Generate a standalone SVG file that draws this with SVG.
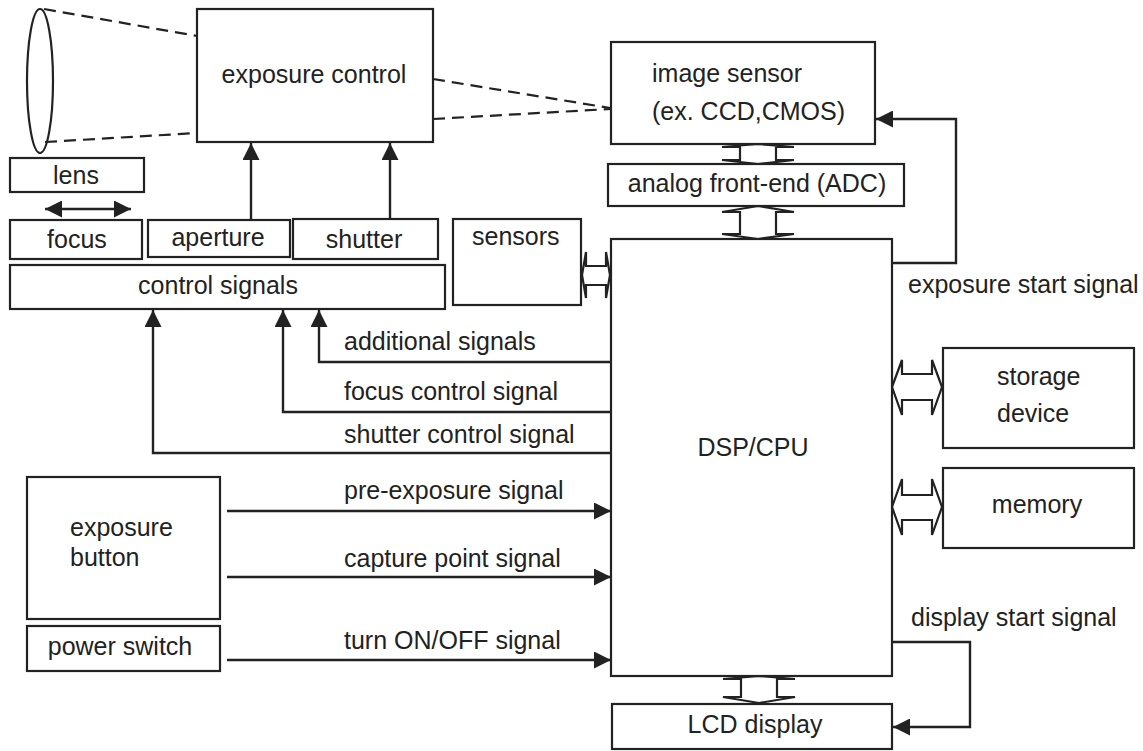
<svg xmlns="http://www.w3.org/2000/svg" width="1143" height="751" viewBox="0 0 1143 751">
<style>
  .box{fill:#fff;stroke:#222;stroke-width:2.2}
  .t{font-family:"Liberation Sans",Arial,sans-serif;font-size:25px;fill:#222}
  .m{text-anchor:middle}
  .ln{fill:none;stroke:#222;stroke-width:2.4}
  .dash{fill:none;stroke:#222;stroke-width:2.2;stroke-dasharray:12 7}
  .dbl{fill:#fff;stroke:#222;stroke-width:2.2;stroke-linejoin:miter}
</style>
<defs>
  <marker id="ah" markerUnits="userSpaceOnUse" markerWidth="18" markerHeight="17" refX="17" refY="8.5" orient="auto-start-reverse">
    <path d="M0,0 L17,8.5 L0,17 Z" fill="#222"/>
  </marker>
</defs>
<rect width="1143" height="751" fill="#fff"/>

<g id="connectors">
  <path class="dash" d="M44,9 L197,36"/>
  <path class="dash" d="M45,142 L197,133"/>
  <path class="dash" d="M433,79 L610,108"/>
  <path class="dash" d="M433,119 L610,109"/>
  <line class="ln" x1="45" y1="209" x2="131" y2="209" marker-start="url(#ah)" marker-end="url(#ah)"/>
  <line class="ln" x1="251" y1="220" x2="251" y2="143" marker-end="url(#ah)"/>
  <line class="ln" x1="390" y1="219" x2="390" y2="143" marker-end="url(#ah)"/>
  <polyline class="ln" points="611,362 319,362 319,310" marker-end="url(#ah)"/>
  <polyline class="ln" points="611,412 283,412 283,310" marker-end="url(#ah)"/>
  <polyline class="ln" points="611,453 153,453 153,310" marker-end="url(#ah)"/>
  <line class="ln" x1="227" y1="511" x2="611" y2="511" marker-end="url(#ah)"/>
  <line class="ln" x1="227" y1="577" x2="611" y2="577" marker-end="url(#ah)"/>
  <line class="ln" x1="227" y1="660" x2="611" y2="660" marker-end="url(#ah)"/>
  <polyline class="ln" points="892,263 956,263 956,119 876,119" marker-end="url(#ah)"/>
  <polyline class="ln" points="892,642 970,642 970,727 893,727" marker-end="url(#ah)"/>
  <polygon class="dbl" points="758,144 794,147 776,147 776,160 794,160 758,164 722,160 740,160 740,147 722,147"/>
  <polygon class="dbl" points="758,206 794,212 776,212 776,234 794,234 758,239 722,234 740,234 740,212 722,212"/>
  <polygon class="dbl" points="759,676 795,679 777,679 777,697 795,697 759,703 723,697 741,697 741,679 723,679"/>
  <polygon class="dbl" points="582,275 586,252 586,266 606,266 606,252 610,275 606,298 606,285 586,285 586,298"/>
  <polygon class="dbl" points="892,387 902,360 902,374 932,374 932,360 942,387 932,415 932,400 902,400 902,415"/>
  <polygon class="dbl" points="892,507 902,479 902,495 932,495 932,479 942,507 932,535 932,520 902,520 902,535"/>
</g>

<g id="lens-shape">
  <ellipse cx="40" cy="81" rx="13" ry="72" fill="none" stroke="#222" stroke-width="2.2"/>
</g>
<g id="exposure-control">
  <rect class="box" x="197" y="9" width="236" height="133"/>
  <text class="t m" x="314" y="83">exposure control</text>
</g>
<g id="lens">
  <rect class="box" x="10" y="158" width="134" height="34"/>
  <text class="t m" x="76" y="184">lens</text>
</g>
<g id="focus">
  <rect class="box" x="10" y="220" width="132" height="39"/>
  <text class="t m" x="77" y="248">focus</text>
</g>
<g id="aperture">
  <rect class="box" x="148" y="220" width="142" height="37"/>
  <text class="t m" x="218" y="246">aperture</text>
</g>
<g id="shutter">
  <rect class="box" x="293" y="219" width="145" height="40"/>
  <text class="t m" x="364" y="248">shutter</text>
</g>
<g id="control-signals">
  <rect class="box" x="10" y="265" width="435" height="44"/>
  <text class="t m" x="218" y="294">control signals</text>
</g>
<g id="image-sensor">
  <rect class="box" x="611" y="42" width="264" height="102"/>
  <text class="t" x="652" y="82">image sensor</text>
  <text class="t" x="652" y="120">(ex. CCD,CMOS)</text>
</g>
<g id="adc">
  <rect class="box" x="608" y="164" width="296" height="42"/>
  <text class="t m" x="757" y="192">analog front-end (ADC)</text>
</g>
<g id="sensors">
  <rect class="box" x="453" y="219" width="128" height="86"/>
  <text class="t" x="472" y="245">sensors</text>
</g>
<g id="dsp">
  <rect class="box" x="611" y="239" width="281" height="437"/>
  <text class="t m" x="753" y="456">DSP/CPU</text>
</g>
<g id="storage">
  <rect class="box" x="943" y="348" width="191" height="100"/>
  <text class="t" x="997" y="385">storage</text>
  <text class="t" x="997" y="422">device</text>
</g>
<g id="memory">
  <rect class="box" x="943" y="468" width="191" height="80"/>
  <text class="t m" x="1037" y="513">memory</text>
</g>
<g id="lcd">
  <rect class="box" x="612" y="704" width="280" height="45"/>
  <text class="t m" x="755" y="733">LCD display</text>
</g>
<g id="exposure-button">
  <rect class="box" x="27" y="477" width="193" height="142"/>
  <text class="t" x="70" y="536">exposure</text>
  <text class="t" x="70" y="566">button</text>
</g>
<g id="power-switch">
  <rect class="box" x="27" y="626" width="193" height="45"/>
  <text class="t m" x="120" y="655">power switch</text>
</g>

<g id="labels">
  <text class="t" x="344" y="350">additional signals</text>
  <text class="t" x="344" y="400">focus control signal</text>
  <text class="t" x="344" y="443">shutter control signal</text>
  <text class="t" x="344" y="499">pre-exposure signal</text>
  <text class="t" x="344" y="567">capture point signal</text>
  <text class="t" x="344" y="649">turn ON/OFF signal</text>
  <text class="t" x="908" y="293">exposure start signal</text>
  <text class="t" x="911" y="626">display start signal</text>
</g>
</svg>
